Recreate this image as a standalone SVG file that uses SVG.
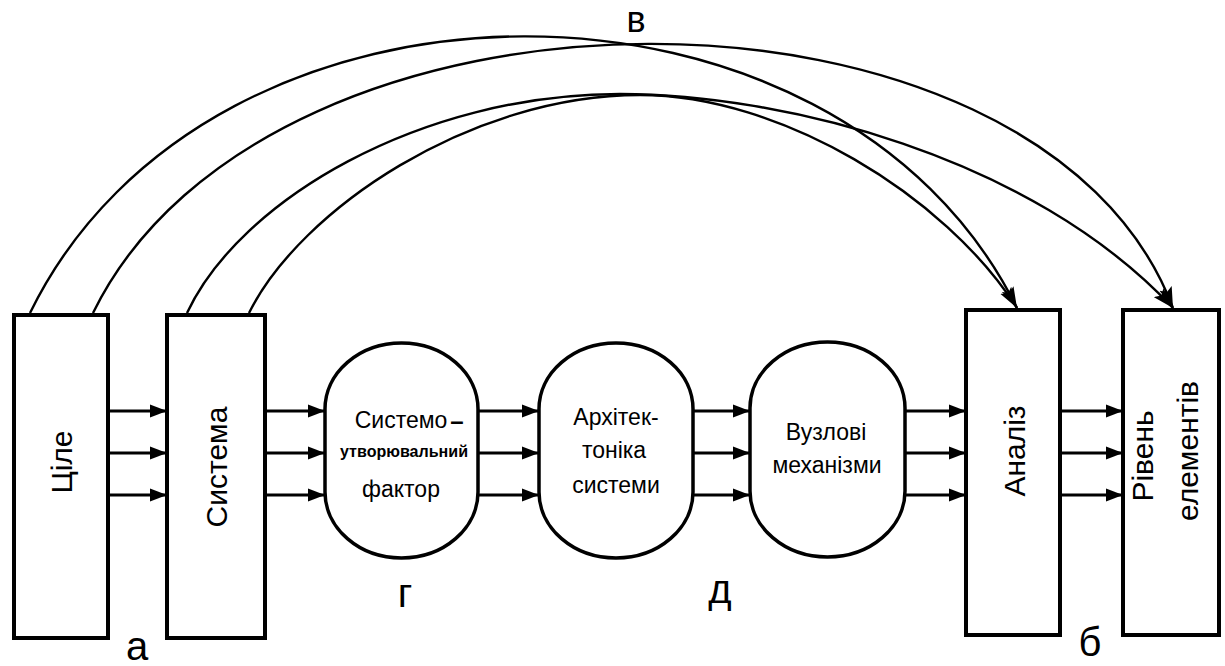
<svg xmlns="http://www.w3.org/2000/svg" width="1225" height="666" viewBox="0 0 1225 666">
<defs>
<marker id="ah" markerUnits="userSpaceOnUse" markerWidth="18" markerHeight="14" refX="17" refY="7" orient="auto">
<path d="M0,0.5 L17,7 L0,13.5 z" fill="#000"/>
</marker>
<marker id="ac" markerUnits="userSpaceOnUse" markerWidth="22" markerHeight="14" refX="21" refY="7" orient="auto">
<path d="M0,0.5 L21,7 L0,13.5 L4,7 z" fill="#000"/>
</marker>
</defs>
<style>
.box{fill:#fff;stroke:#000;stroke-width:4}
.oval{fill:#fff;stroke:#000;stroke-width:3.5}
.lbl{font-family:"Liberation Sans",Arial,sans-serif;fill:#000;text-anchor:middle}
.big{font-size:30px}
.mid{font-size:23px}
.let{font-size:40px}
.h{fill:none;stroke:#000;stroke-width:3;marker-end:url(#ah)}
.c{fill:none;stroke:#000;stroke-width:2.4;marker-end:url(#ac)}
</style>
<rect width="1225" height="666" fill="#fff"/>
<g id="connectors">
<path class="c" d="M30,313 C210,-55 837,-55 1017,308"/>
<path class="c" d="M93,313 C268,-45 1040,-45 1173,308"/>
<path class="c" d="M187,313 C240,200 420,94 620,94 C780,94 1030,155 1173,308"/>
<path class="c" d="M249,313 C300,210 470,95 640,95 C780,95 945,195 1017,308"/>
<path class="h" d="M108,411 H167"/>
<path class="h" d="M108,453 H167"/>
<path class="h" d="M108,495 H167"/>
<path class="h" d="M265,411 H325"/>
<path class="h" d="M265,453 H325"/>
<path class="h" d="M265,495 H325"/>
<path class="h" d="M478,411 H539"/>
<path class="h" d="M478,453 H539"/>
<path class="h" d="M478,495 H539"/>
<path class="h" d="M693,411 H750"/>
<path class="h" d="M693,453 H750"/>
<path class="h" d="M693,495 H750"/>
<path class="h" d="M905,411 H966"/>
<path class="h" d="M905,453 H966"/>
<path class="h" d="M905,495 H966"/>
<path class="h" d="M1060,411 H1123"/>
<path class="h" d="M1060,453 H1123"/>
<path class="h" d="M1060,495 H1123"/>
</g>
<g id="node-tsile">
<rect class="box" x="14" y="315" width="94" height="323"/>
<text class="lbl big" transform="translate(72,462) rotate(-90)">Ціле</text>
</g>
<g id="node-systema">
<rect class="box" x="167" y="315" width="98" height="323"/>
<text class="lbl big" transform="translate(227,467) rotate(-90)">Система</text>
</g>
<g id="node-factor">
<rect class="oval" x="325" y="343" width="153" height="215" rx="76.5" ry="66"/>
<text class="lbl mid" x="401" y="428">Системо</text>
<text class="lbl" x="457" y="429" style="font-size:24px;font-weight:bold">–</text>
<text class="lbl" x="404" y="457" style="font-size:16px;font-weight:bold" textLength="128" lengthAdjust="spacingAndGlyphs">утворювальний</text>
<text class="lbl mid" x="401" y="497">фактор</text>
</g>
<g id="node-arch">
<rect class="oval" x="539" y="343" width="154" height="215" rx="77" ry="66"/>
<text class="lbl mid" x="616" y="425">Архітек-</text>
<text class="lbl mid" x="614" y="458">тоніка</text>
<text class="lbl mid" x="616" y="493">системи</text>
</g>
<g id="node-mech">
<rect class="oval" x="750" y="342" width="155" height="215" rx="77.5" ry="66"/>
<text class="lbl mid" x="826" y="440">Вузлові</text>
<text class="lbl mid" x="827" y="473">механізми</text>
</g>
<g id="node-analiz">
<rect class="box" x="966" y="310" width="94" height="325"/>
<text class="lbl big" transform="translate(1025,451) rotate(-90)">Аналіз</text>
</g>
<g id="node-riven">
<rect class="box" x="1123" y="310" width="96" height="325"/>
<text class="lbl big" transform="translate(1153,456) rotate(-90)">Рівень</text>
<text class="lbl big" transform="translate(1198,451) rotate(-90)">елементів</text>
</g>
<g id="letters">
<text class="lbl" x="636" y="32" style="font-size:36px">в</text>
<text class="lbl let" x="137" y="660">а</text>
<text class="lbl let" x="1090" y="656">б</text>
<text class="lbl let" x="405" y="607">г</text>
<text class="lbl let" x="720" y="603">д</text>
</g>
</svg>
